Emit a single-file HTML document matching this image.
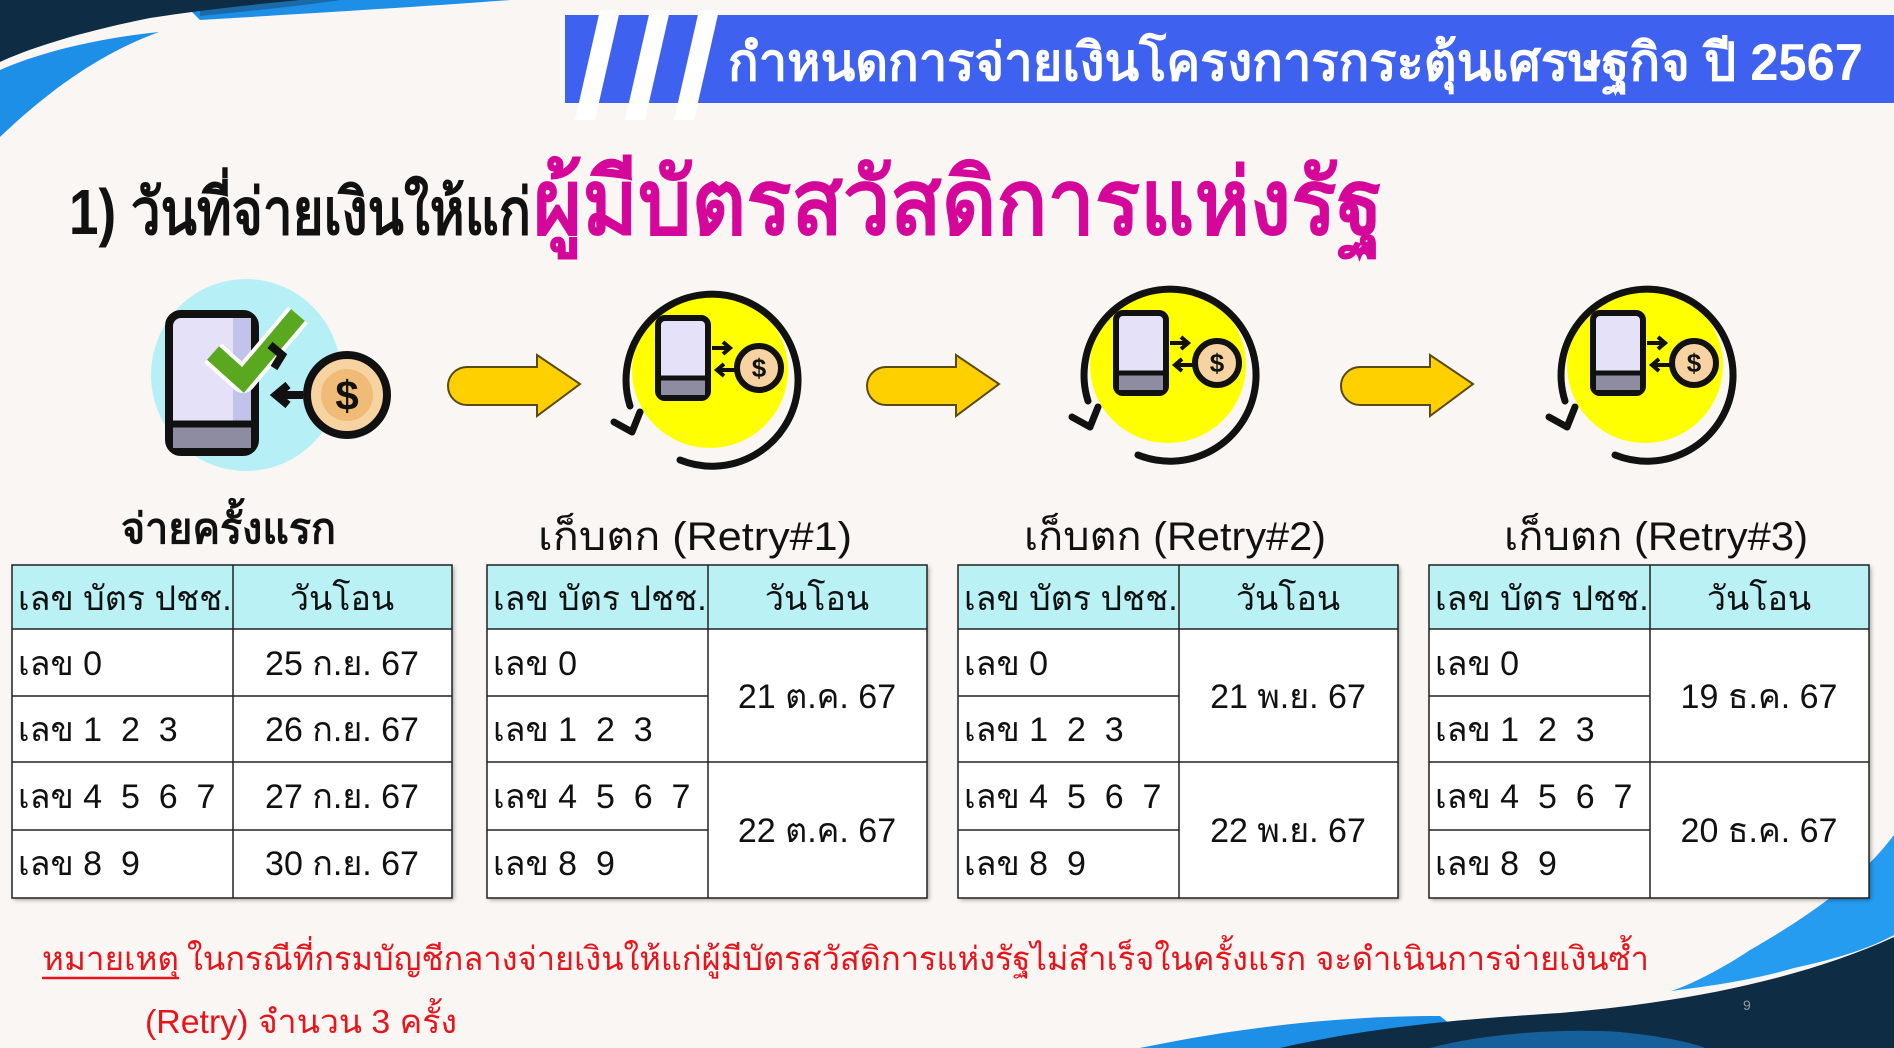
<!DOCTYPE html>
<html><head><meta charset="utf-8"><style>
html,body{margin:0;padding:0;background:#faf6f3;}
svg{display:block}
text{font-family:"Liberation Sans","DejaVu Sans",sans-serif;white-space:pre;}
</style></head><body>
<svg width="1894" height="1048" viewBox="0 0 1894 1048" xmlns="http://www.w3.org/2000/svg">
<defs>
<g id="yic">
  <circle cx="0" cy="0" r="78" fill="#ffff00"/>
  <path d="M-30 90 A86 86 0 1 0 -80 36" fill="none" stroke="#111" stroke-width="7" stroke-linecap="round"/>
  <path d="M-96 52 L-78 62 L-70 42" fill="none" stroke="#111" stroke-width="7" stroke-linecap="round" stroke-linejoin="round"/>
  <rect x="-52" y="-52" width="50" height="80" rx="7" fill="#e4e1f8" stroke="#111" stroke-width="6"/>
  <rect x="-49" y="10" width="44" height="15" fill="#8d8ca0"/>
  <line x1="-52" y1="8" x2="-2" y2="8" stroke="#111" stroke-width="5"/>
  <path d="M2 -22 H18 M13 -28 L20 -22 L13 -16" fill="none" stroke="#111" stroke-width="4"/>
  <path d="M26 0 H8 M14 -6 L7 0 L14 6" fill="none" stroke="#111" stroke-width="4"/>
  <circle cx="49" cy="-2" r="22" fill="#f6d3a0" stroke="#111" stroke-width="6"/>
  <text x="49" y="7" font-size="26" font-weight="bold" text-anchor="middle" fill="#111">$</text>
</g>
<path id="arr" d="M467 367 H537 V355 L580 384 L537 416 V405 H467 A19 19 0 0 1 467 367 Z" fill="#ffd000" stroke="#5a4a10" stroke-width="2"/>
<filter id="sh" x="-5%" y="-5%" width="110%" height="110%"><feDropShadow dx="2" dy="2" stdDeviation="2" flood-opacity="0.35"/></filter>
</defs>

<!-- swooshes top-left -->
<path d="M180 0 H510 C400 8 300 14 200 20 Z" fill="#1e8fe6"/>
<path d="M200 0 H340 C300 6 260 10 200 16 Z" fill="#1a6aa8"/>
<path d="M0 0 H300 C250 5 200 10 150 18 C80 32 30 48 0 62 Z" fill="#0f2c45"/>
<path d="M0 70 C40 52 100 38 159 32 C110 50 60 80 0 137 Z" fill="#1e8fe6"/>
<!-- swooshes bottom-right -->
<path d="M1894 835 C1860 880 1811 915 1750 950 C1720 970 1690 985 1671 991 C1720 985 1760 978 1794 968 C1840 958 1870 948 1894 935 Z" fill="#259cf0"/>
<path d="M1140 1048 C1250 1025 1350 1016 1440 1016 L1480 1048 Z" fill="#1e8fe6"/>
<path d="M1280 1048 C1380 1025 1480 1018 1560 1013 C1680 1003 1800 980 1894 937 V1048 Z" fill="#0f2c45"/>
<path d="M1430 1048 C1480 1034 1560 1028 1620 1032 C1660 1036 1690 1042 1705 1048 Z" fill="#15609a"/>
<text x="1743" y="1010" font-size="14" fill="#999">9</text>

<!-- banner -->
<rect x="565" y="15" width="1329" height="88" fill="#3f61f0"/>
<polygon points="575,120 595,120 620,10 600,10" fill="#fff"/>
<polygon points="625,120 645,120 670,10 650,10" fill="#fff"/>
<polygon points="674,120 694,120 719,10 699,10" fill="#fff"/>
<text x="728" y="80" font-size="52" font-weight="bold" fill="#fff" textLength="1135" lengthAdjust="spacingAndGlyphs">กำหนดการจ่ายเงินโครงการกระตุ้นเศรษฐกิจ ปี 2567</text>

<!-- title -->
<text x="69" y="234" font-size="64" font-weight="bold" fill="#111" textLength="462" lengthAdjust="spacingAndGlyphs">1) วันที่จ่ายเงินให้แก่</text>
<text x="533" y="234" font-size="92" font-weight="bold" fill="#d4079a" textLength="850" lengthAdjust="spacingAndGlyphs">ผู้มีบัตรสวัสดิการแห่งรัฐ</text>

<!-- first icon -->
<ellipse cx="246" cy="375" rx="95" ry="96" fill="#b6f0f6"/>
<rect x="169" y="314" width="86" height="138" rx="12" fill="#e4e1f8" stroke="#111" stroke-width="8"/>
<rect x="233" y="318" width="18" height="110" fill="#c3c2ea"/>
<rect x="173" y="426" width="78" height="22" fill="#8d8ca0"/>
<line x1="169" y1="424" x2="255" y2="424" stroke="#111" stroke-width="7"/>
<polyline points="213,353 243,380 298,315" fill="none" stroke="#fff" stroke-width="26" stroke-linejoin="round"/>
<polyline points="213,353 243,380 298,315" fill="none" stroke="#5aa820" stroke-width="18" stroke-linejoin="miter"/>
<path d="M270 345 L282 355 L274 368" fill="none" stroke="#111" stroke-width="8"/>
<path d="M303 395 H278 M288 385 L276 395 L288 405" fill="none" stroke="#111" stroke-width="8"/>
<circle cx="347" cy="395" r="40" fill="#f6d3a0" stroke="#111" stroke-width="8"/>
<circle cx="347" cy="395" r="26" fill="#f0bb76"/>
<text x="347" y="410" font-size="42" font-weight="bold" text-anchor="middle" fill="#111">$</text>

<!-- arrows -->
<use href="#arr"/>
<use href="#arr" transform="translate(419,0)"/>
<use href="#arr" transform="translate(893,0)"/>
<!-- yellow icons -->
<use href="#yic" transform="translate(710,370)"/>
<use href="#yic" transform="translate(1168,365)"/>
<use href="#yic" transform="translate(1645,365)"/>

<!-- labels -->
<text x="121" y="543" font-size="42" font-weight="bold" fill="#111" textLength="215" lengthAdjust="spacingAndGlyphs">จ่ายครั้งแรก</text>
<text x="538" y="550" font-size="40" fill="#111" textLength="314" lengthAdjust="spacingAndGlyphs">เก็บตก (Retry#1)</text>
<text x="1024" y="550" font-size="40" fill="#111" textLength="302" lengthAdjust="spacingAndGlyphs">เก็บตก (Retry#2)</text>
<text x="1504" y="550" font-size="40" fill="#111" textLength="304" lengthAdjust="spacingAndGlyphs">เก็บตก (Retry#3)</text>

<g font-size="34" fill="#111">
<g transform="translate(12,0)">
  <rect x="0" y="565" width="440" height="333" fill="#fff" filter="url(#sh)"/>
  <rect x="0" y="565" width="440" height="64" fill="#b9f1f5"/>
  <g stroke="#222" stroke-width="1.5" fill="none">
    <rect x="0" y="565" width="440" height="333"/>
    <line x1="221" y1="565" x2="221" y2="898"/>
    <line x1="0" y1="629" x2="440" y2="629"/>
    <line x1="0" y1="696" x2="440" y2="696"/>
    <line x1="0" y1="762" x2="440" y2="762"/>
    <line x1="0" y1="830" x2="440" y2="830"/>
  </g>
  <text x="6" y="610">เลข บัตร ปชช.</text>
  <text x="330" y="610" text-anchor="middle">วันโอน</text>
  <text x="6" y="675">เลข 0</text><text x="330" y="675" text-anchor="middle">25 ก.ย. 67</text>
  <text x="6" y="741">เลข 1  2  3</text><text x="330" y="741" text-anchor="middle">26 ก.ย. 67</text>
  <text x="6" y="808">เลข 4  5  6  7</text><text x="330" y="808" text-anchor="middle">27 ก.ย. 67</text>
  <text x="6" y="875">เลข 8  9</text><text x="330" y="875" text-anchor="middle">30 ก.ย. 67</text>
</g>
<g transform="translate(487,0)">
  <rect x="0" y="565" width="440" height="333" fill="#fff" filter="url(#sh)"/>
  <rect x="0" y="565" width="440" height="64" fill="#b9f1f5"/>
  <g stroke="#222" stroke-width="1.5" fill="none">
    <rect x="0" y="565" width="440" height="333"/>
    <line x1="221" y1="565" x2="221" y2="898"/>
    <line x1="0" y1="629" x2="440" y2="629"/>
    <line x1="0" y1="696" x2="221" y2="696"/>
    <line x1="0" y1="762" x2="440" y2="762"/>
    <line x1="0" y1="830" x2="221" y2="830"/>
  </g>
  <text x="6" y="610">เลข บัตร ปชช.</text>
  <text x="330" y="610" text-anchor="middle">วันโอน</text>
  <text x="6" y="675">เลข 0</text>
  <text x="6" y="741">เลข 1  2  3</text>
  <text x="6" y="808">เลข 4  5  6  7</text>
  <text x="6" y="875">เลข 8  9</text>
  <text x="330" y="708" text-anchor="middle">21 ต.ค. 67</text>
  <text x="330" y="842" text-anchor="middle">22 ต.ค. 67</text>
</g>
<g transform="translate(958,0)">
  <rect x="0" y="565" width="440" height="333" fill="#fff" filter="url(#sh)"/>
  <rect x="0" y="565" width="440" height="64" fill="#b9f1f5"/>
  <g stroke="#222" stroke-width="1.5" fill="none">
    <rect x="0" y="565" width="440" height="333"/>
    <line x1="221" y1="565" x2="221" y2="898"/>
    <line x1="0" y1="629" x2="440" y2="629"/>
    <line x1="0" y1="696" x2="221" y2="696"/>
    <line x1="0" y1="762" x2="440" y2="762"/>
    <line x1="0" y1="830" x2="221" y2="830"/>
  </g>
  <text x="6" y="610">เลข บัตร ปชช.</text>
  <text x="330" y="610" text-anchor="middle">วันโอน</text>
  <text x="6" y="675">เลข 0</text>
  <text x="6" y="741">เลข 1  2  3</text>
  <text x="6" y="808">เลข 4  5  6  7</text>
  <text x="6" y="875">เลข 8  9</text>
  <text x="330" y="708" text-anchor="middle">21 พ.ย. 67</text>
  <text x="330" y="842" text-anchor="middle">22 พ.ย. 67</text>
</g>
<g transform="translate(1429,0)">
  <rect x="0" y="565" width="440" height="333" fill="#fff" filter="url(#sh)"/>
  <rect x="0" y="565" width="440" height="64" fill="#b9f1f5"/>
  <g stroke="#222" stroke-width="1.5" fill="none">
    <rect x="0" y="565" width="440" height="333"/>
    <line x1="221" y1="565" x2="221" y2="898"/>
    <line x1="0" y1="629" x2="440" y2="629"/>
    <line x1="0" y1="696" x2="221" y2="696"/>
    <line x1="0" y1="762" x2="440" y2="762"/>
    <line x1="0" y1="830" x2="221" y2="830"/>
  </g>
  <text x="6" y="610">เลข บัตร ปชช.</text>
  <text x="330" y="610" text-anchor="middle">วันโอน</text>
  <text x="6" y="675">เลข 0</text>
  <text x="6" y="741">เลข 1  2  3</text>
  <text x="6" y="808">เลข 4  5  6  7</text>
  <text x="6" y="875">เลข 8  9</text>
  <text x="330" y="708" text-anchor="middle">19 ธ.ค. 67</text>
  <text x="330" y="842" text-anchor="middle">20 ธ.ค. 67</text>
</g>
</g>

<!-- note -->
<text x="42" y="970" font-size="33" fill="#e8141b" textLength="137" lengthAdjust="spacingAndGlyphs">หมายเหตุ</text>
<line x1="42" y1="978" x2="179" y2="978" stroke="#e8141b" stroke-width="2.5"/>
<text x="187" y="970" font-size="33" fill="#e8141b" textLength="1462" lengthAdjust="spacingAndGlyphs">ในกรณีที่กรมบัญชีกลางจ่ายเงินให้แก่ผู้มีบัตรสวัสดิการแห่งรัฐไม่สำเร็จในครั้งแรก จะดำเนินการจ่ายเงินซ้ำ</text>
<text x="145" y="1033" font-size="33" fill="#e8141b" textLength="312" lengthAdjust="spacingAndGlyphs">(Retry) จำนวน 3 ครั้ง</text>
</svg>
</body></html>
